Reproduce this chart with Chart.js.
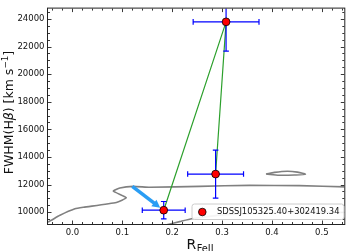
<!DOCTYPE html>
<html><head><meta charset="utf-8">
<script src="https://cdn.jsdelivr.net/npm/chart.js@4"></script>
<style>html,body{margin:0;padding:0;background:#fff;overflow:hidden}</style>
</head><body>
<canvas id="c" width="349" height="251"></canvas>
<script>
// ---------- data ----------
const seriesLabel = 'SDSSJ105325.40+302419.34';
const rFe     = [0.183, 0.287, 0.308];
const rFeErr  = [0.043, 0.056, 0.066];
const fwhm    = [10140, 12760, 23790];
const fwhmErr = [630, 1740, 2120];
const linkOrder = [0, 2, 1];           // green connecting line visits points in this order
const arrowX = [0.120, 0.176];
const arrowY = [11870, 10310];
// grey contours
const contourAX = [-0.052, -0.048, -0.025, 0.005, 0.022, 0.088, 0.108, 0.082, 0.095, 0.122, 0.155, 0.255, 0.355, 0.455, 0.548];
const contourAY = [9280, 9300, 9770, 10240, 10350, 10700, 11050, 11520, 11750, 11870, 11800, 11870, 11940, 11920, 11830];
const contourBX = [0.185, 0.215, 0.239, 0.315, 0.455, 0.548];
const contourBY = [9050, 9314, 9524, 9840, 9980, 9980];
const contourCX = [0.388, 0.405, 0.431, 0.451, 0.467, 0.445, 0.415, 0.388];
const contourCY = [12758, 12884, 12968, 12898, 12744, 12688, 12674, 12758];
// axes
const xTicks = [0.0, 0.1, 0.2, 0.3, 0.4, 0.5];
const yTicks = [10000, 12000, 14000, 16000, 18000, 20000, 22000, 24000];
const xMin = -0.049, xMax = 0.545, yMin = 9140, yMax = 24750;

const pts = (xs, ys) => xs.map((x, i) => ({x: x, y: ys[i]}));
const FONT = 'DejaVu Sans';

const decor = {
  id: 'decor',
  beforeDatasetDraw(chart, args) {
    if (args.index !== 0) return;
    const ctx = chart.ctx, xs = chart.scales.x, ys = chart.scales.y, ca = chart.chartArea;
    ctx.save();
    ctx.beginPath(); ctx.rect(ca.left, ca.top, ca.right - ca.left, ca.bottom - ca.top); ctx.clip();
    // arrow
    const ax0 = xs.getPixelForValue(arrowX[0]), ay0 = ys.getPixelForValue(arrowY[0]);
    const ax1 = xs.getPixelForValue(arrowX[1]), ay1 = ys.getPixelForValue(arrowY[1]);
    const dx = ax1 - ax0, dy = ay1 - ay0, L = Math.hypot(dx, dy), ux = dx / L, uy = dy / L;
    const hl = 8, hw = 4.2;
    ctx.strokeStyle = '#2a9df4'; ctx.fillStyle = '#2a9df4'; ctx.lineWidth = 3.6; ctx.lineCap = 'butt';
    ctx.beginPath(); ctx.moveTo(ax0, ay0); ctx.lineTo(ax1 - ux * hl * 0.8, ay1 - uy * hl * 0.8); ctx.stroke();
    ctx.beginPath();
    ctx.moveTo(ax1, ay1);
    ctx.lineTo(ax1 - ux * hl - uy * hw, ay1 - uy * hl + ux * hw);
    ctx.lineTo(ax1 - ux * hl + uy * hw, ay1 - uy * hl - ux * hw);
    ctx.closePath(); ctx.fill();
    // error bars
    ctx.strokeStyle = '#0000ff'; ctx.lineWidth = 1.2;
    const cap = 2.8;
    for (let i = 0; i < rFe.length; i++) {
      const px = xs.getPixelForValue(rFe[i]), py = ys.getPixelForValue(fwhm[i]);
      const xl = xs.getPixelForValue(rFe[i] - rFeErr[i]), xr = xs.getPixelForValue(rFe[i] + rFeErr[i]);
      const yt = ys.getPixelForValue(fwhm[i] + fwhmErr[i]), yb = ys.getPixelForValue(fwhm[i] - fwhmErr[i]);
      ctx.beginPath();
      ctx.moveTo(xl, py); ctx.lineTo(xr, py);
      ctx.moveTo(px, yt); ctx.lineTo(px, yb);
      ctx.moveTo(xl, py - cap); ctx.lineTo(xl, py + cap);
      ctx.moveTo(xr, py - cap); ctx.lineTo(xr, py + cap);
      ctx.moveTo(px - cap, yt); ctx.lineTo(px + cap, yt);
      ctx.moveTo(px - cap, yb); ctx.lineTo(px + cap, yb);
      ctx.stroke();
    }
    ctx.restore();
  },
  afterDraw(chart) {
    const ctx = chart.ctx, xs = chart.scales.x, ys = chart.scales.y, ca = chart.chartArea;
    ctx.save();
    // ticks (inside, all four sides)
    ctx.strokeStyle = '#222'; ctx.lineWidth = 0.9;
    ctx.beginPath();
    for (let k = -2; k <= 27; k++) {
      const v = k * 0.02; if (v < xMin || v > xMax) continue;
      const major = k % 5 === 0, len = major ? 3.5 : 2;
      const px = Math.round(xs.getPixelForValue(v)) + 0.5;
      ctx.moveTo(px, ca.bottom); ctx.lineTo(px, ca.bottom - len);
      ctx.moveTo(px, ca.top); ctx.lineTo(px, ca.top + len);
    }
    for (let k = 19; k <= 49; k++) {
      const v = k * 500; if (v < yMin || v > yMax) continue;
      const major = v % 2000 === 0, len = major ? 3.5 : 2;
      const py = Math.round(ys.getPixelForValue(v)) + 0.5;
      ctx.moveTo(ca.left, py); ctx.lineTo(ca.left + len, py);
      ctx.moveTo(ca.right, py); ctx.lineTo(ca.right - len, py);
    }
    ctx.stroke();
    // frame
    ctx.strokeStyle = '#222'; ctx.lineWidth = 1;
    ctx.strokeRect(ca.left - 0.5, ca.top - 0.5, ca.right - ca.left + 1, ca.bottom - ca.top + 1);
    // legend
    const lx = 192, ly = 204, lw = 152, lh = 15.5, r = 2.5;
    ctx.fillStyle = 'rgba(255,255,255,0.92)'; ctx.strokeStyle = '#cccccc'; ctx.lineWidth = 1;
    ctx.beginPath();
    ctx.moveTo(lx + r, ly); ctx.lineTo(lx + lw - r, ly); ctx.arcTo(lx + lw, ly, lx + lw, ly + r, r);
    ctx.lineTo(lx + lw, ly + lh - r); ctx.arcTo(lx + lw, ly + lh, lx + lw - r, ly + lh, r);
    ctx.lineTo(lx + r, ly + lh); ctx.arcTo(lx, ly + lh, lx, ly + lh - r, r);
    ctx.lineTo(lx, ly + r); ctx.arcTo(lx, ly, lx + r, ly, r); ctx.closePath();
    ctx.fill(); ctx.stroke();
    ctx.beginPath(); ctx.arc(202.3, 212, 3.8, 0, Math.PI * 2);
    ctx.fillStyle = '#ff0000'; ctx.fill(); ctx.strokeStyle = '#000'; ctx.lineWidth = 0.8; ctx.stroke();
    ctx.fillStyle = '#111'; ctx.font = '8.4px "' + FONT + '"'; ctx.textBaseline = 'middle'; ctx.textAlign = 'left';
    ctx.fillText(chart.data.datasets[0].label, 217, 212.3);
    // x title
    ctx.textBaseline = 'alphabetic';
    ctx.font = '14px "' + FONT + '"';
    ctx.fillText('R', 186.5, 249);
    const rw = ctx.measureText('R').width;
    ctx.font = '9.8px "' + FONT + '"';
    ctx.fillText('FeII', 186.5 + rw + 0.5, 251.8);
    // y title (rotated)
    ctx.translate(13.3, 112.5); ctx.rotate(-Math.PI / 2);
    const big = '12.5px "' + FONT + '"', ital = 'italic 12.5px "' + FONT + '"', sup = '8.8px "' + FONT + '"';
    const segs = [[big, 'FWHM(H', 0], [ital, 'β', 0], [big, ') [km s', 0], [sup, '−1', -5], [big, ']', 0]];
    let tot = 0; segs.forEach(s => { ctx.font = s[0]; tot += ctx.measureText(s[1]).width; });
    let x = -tot / 2;
    segs.forEach(s => { ctx.font = s[0]; ctx.fillText(s[1], x, s[2]); x += ctx.measureText(s[1]).width; });
    ctx.restore();
  }
};

new Chart(document.getElementById('c'), {
  type: 'scatter',
  data: {
    datasets: [
      { label: seriesLabel, data: pts(rFe, fwhm), order: 0, pointRadius: 3.9, pointHoverRadius: 3.9,
        backgroundColor: '#ff0000', borderColor: '#000000', borderWidth: 0.8 },
      { label: 'link', data: linkOrder.map(i => ({x: rFe[i], y: fwhm[i]})), order: 1, showLine: true,
        pointRadius: 0, borderColor: '#2ca02c', borderWidth: 1.2 },
      { label: 'cA', data: pts(contourAX, contourAY), order: 2, showLine: true, pointRadius: 0,
        borderColor: '#808080', borderWidth: 1.6, tension: 0.15 },
      { label: 'cB', data: pts(contourBX, contourBY), order: 2, showLine: true, pointRadius: 0,
        borderColor: '#808080', borderWidth: 1.6, tension: 0.15 },
      { label: 'cC', data: pts(contourCX, contourCY), order: 2, showLine: true, pointRadius: 0,
        borderColor: '#808080', borderWidth: 1.6, tension: 0.3 }
    ]
  },
  options: {
    responsive: false, animation: false, devicePixelRatio: 1,
    layout: { padding: { top: 1, right: 4, left: 0, bottom: 0 } },
    plugins: { legend: { display: false }, tooltip: { enabled: false } },
    scales: {
      x: { type: 'linear', min: xMin, max: xMax,
        grid: { display: false, drawTicks: false }, border: { display: false },
        afterBuildTicks: s => { s.ticks = xTicks.map(v => ({value: v})); },
        afterFit: s => { s.height = 27; },
        ticks: { padding: 4, color: '#111', font: { family: FONT, size: 8.5 }, maxRotation: 0,
          callback: v => Number(v).toFixed(1) } },
      y: { type: 'linear', min: yMin, max: yMax,
        grid: { display: false, drawTicks: false }, border: { display: false },
        afterBuildTicks: s => { s.ticks = yTicks.map(v => ({value: v})); },
        afterFit: s => { s.width = 48; },
        ticks: { padding: 3.5, color: '#111', font: { family: FONT, size: 8.5 },
          callback: v => String(v) } }
    }
  },
  plugins: [decor]
});
</script>
</body></html>
